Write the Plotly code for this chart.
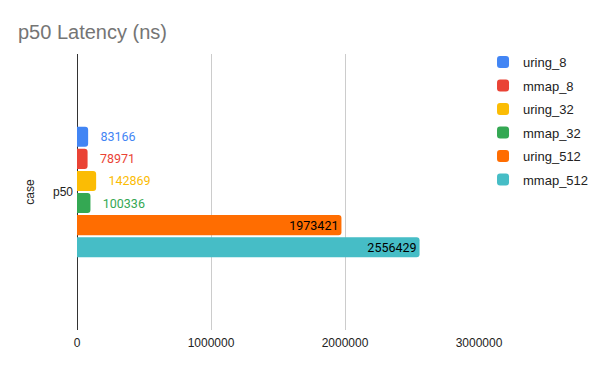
import plotly.graph_objects as go

categories = ["p50"]
series_names = ["uring_8", "mmap_8", "uring_32", "mmap_32", "uring_512", "mmap_512"]
series_values = [[83166], [78971], [142869], [100336], [1973421], [2556429]]
series_colors = ["#4285F4", "#EA4335", "#FBBC04", "#34A853", "#FF6D01", "#46BDC6"]
x_ticks = [0, 1000000, 2000000, 3000000]

fig = go.Figure()
for i, (name, vals, col) in enumerate(zip(series_names, series_values, series_colors)):
    big = vals[0] > 1000000
    fig.add_trace(go.Bar(
        y=categories, x=vals, name=name, orientation="h",
        marker=dict(color=col, cornerradius=3, line=dict(width=0)),
        text=[str(v) if big else "\u00a0\u00a0\u00a0" + str(v) for v in vals],
        textposition="inside" if big else "outside",
        insidetextanchor="end",
        constraintext="none",
        textfont=dict(family="Roboto", size=12.5, color="#000000" if big else col),
        legendgroup=name,
        cliponaxis=False,
    ))

fig.update_layout(
    width=600, height=371,
    barmode="group", bargap=0.52, bargroupgap=0.09,
    plot_bgcolor="white", paper_bgcolor="white",
    margin=dict(l=77, r=121, t=54, b=41, autoexpand=False),
    title=dict(text="p50 Latency (ns)", x=0.03, xanchor="left", y=0.913, yanchor="middle",
               xref="container", yref="container",
               font=dict(family="Arial", size=20, color="#757575")),
    font=dict(family="Arial", size=12, color="#222222"),
    legend=dict(x=1.01, xanchor="left", y=1.025, yanchor="top",
                font=dict(family="Arial", size=13, color="#222222"),
                traceorder="grouped", tracegroupgap=3.6, itemwidth=30),
    xaxis=dict(range=[0, 3000000], tickvals=x_ticks, ticktext=[str(t) for t in x_ticks],
               showgrid=True, gridcolor="#CCCCCC", gridwidth=1,
               zeroline=True, zerolinecolor="#333333", zerolinewidth=1,
               showline=False, ticks="", tickfont=dict(color="#222222"),
               ticklabelstandoff=4, automargin=False),
    yaxis=dict(autorange="reversed", title=dict(text="case", standoff=15,
               font=dict(family="Arial", size=12, color="#222222")),
               showgrid=False, zeroline=False, ticks="", showline=False,
               ticklabelstandoff=3, automargin=False),
)

fig.write_html("out.html", config={"displayModeBar": False},
               post_script="document.body.style.margin='0px';")
